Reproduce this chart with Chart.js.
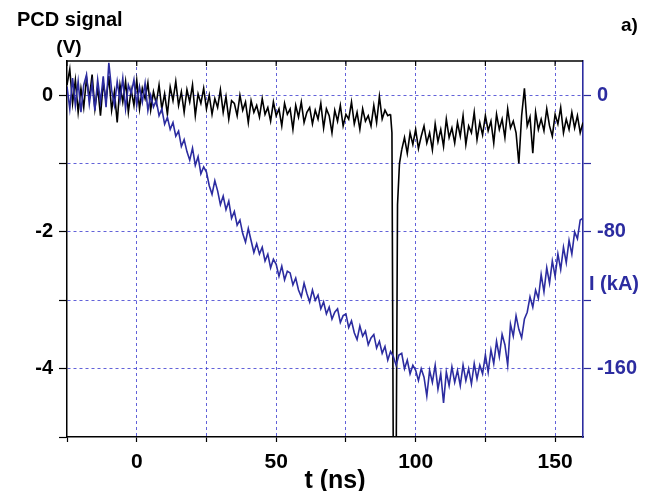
<!DOCTYPE html>
<html>
<head>
<meta charset="utf-8">
<script src="https://cdn.jsdelivr.net/npm/chart.js@4.4.0/dist/chart.umd.min.js"></script>
<style>
  html, body { margin: 0; padding: 0; background: #fff; }
  #wrap { position: relative; width: 658px; height: 491px; }
</style>
</head>
<body>
<div id="wrap"><canvas id="pcdChart" width="658" height="491"></canvas></div>
<script>
// temps (ns) : un échantillon par ns, de -25 à 160
const tStart = -25;
const xTicks = [-25, 0, 25, 50, 75, 100, 125, 150];
const xLabels = [0, 50, 100, 150];
const vTicks = [-5, -4, -3, -2, -1, 0];
const vLabels = [0, -2, -4];
const kaTicks = [-160, -120, -80, -40, 0];
const kaLabels = [0, -80, -160];

// courant I (kA), t = -25 ... 160
const currentKA = [
  5, -8, 10, -6, 8, -10, 6, 12, -5, 7,
  -9, 9, -4, 11, -7, 19, 3, -6, 8, -3,
  10, -8, 6, 1, 9, -6, 5, -4, 7, -9,
  0, -7, -3, -12, -8, -17, -13, -20, -16, -24,
  -21, -30, -26, -33, -38, -31, -41, -36, -46, -42,
  -45, -53, -58, -50, -56, -64, -59, -67, -62, -72,
  -68, -76, -73, -81, -86, -78, -85, -92, -87, -93,
  -89, -97, -93, -101, -96, -99, -106, -100, -108, -103,
  -104, -111, -107, -114, -118, -110, -116, -121, -114, -120,
  -117, -125, -121, -128, -124, -131, -127, -125, -133, -129,
  -128, -136, -132, -139, -143, -135, -141, -138, -146, -142,
  -140, -148, -144, -151, -147, -155, -150, -153, -158, -152,
  -151, -160, -155, -163, -158, -161, -167, -160, -165, -176,
  -161, -168, -158, -172, -163, -180, -162, -170, -159, -168,
  -161, -170, -158, -167, -160, -169, -157, -166, -158, -163,
  -152, -162, -149, -157, -144, -153, -140, -146, -158, -134,
  -141, -129, -137, -142, -131, -127, -118, -124, -114, -119,
  -105, -115, -101, -110, -97, -106, -93, -102, -89, -98,
  -85, -93, -80, -84, -73, -72
];

// signal PCD (V), t = -25 ... 160 ; null là où le pic est tracé à part
const pcdV = [
  0.15, 0.38, -0.12, 0.22, -0.25, 0.1, -0.18, 0.25, -0.05, 0.3,
  -0.2, 0.12, -0.3, 0.18, -0.08, 0.28, -0.22, 0.05, -0.4, 0.15,
  -0.1, 0.2, -0.25, 0.08, -0.15, 0.22, -0.2, 0.1, -0.05, 0.18,
  -0.22, 0.05, -0.12, 0.15, -0.2, 0.02, -0.28, 0.12, -0.08, 0.2,
  -0.15, 0.05, -0.25, 0.08, -0.1, 0.15, -0.3, 0.02, -0.12, 0.1,
  -0.2, 0.0, -0.28, -0.05, -0.18, 0.08, -0.25, -0.02, -0.35, -0.08,
  -0.12, -0.3, 0.0, -0.22, -0.1, -0.4, -0.08, -0.25, -0.15, -0.32,
  -0.05, -0.28, -0.18, -0.38, -0.1, -0.3, -0.2, -0.45, -0.12, -0.28,
  -0.2, -0.5, -0.15, -0.32, -0.1, -0.4, -0.25, -0.18, -0.42, -0.22,
  -0.35, -0.12, -0.48, -0.2, -0.3, -0.55, -0.22, -0.38, -0.15, -0.45,
  -0.28, -0.35, -0.1, -0.42, -0.25, -0.5, -0.2, -0.38, -0.3, -0.45,
  -0.15, -0.4, -0.02, -0.35, -0.22, -0.3, -0.28, null, null, null,
  -0.8, -0.62, -0.85, -0.55, -0.72, -0.5, -0.78, -0.6, -0.45, -0.7,
  -0.55, -0.8, -0.42, -0.68, -0.5, -0.75, -0.35, -0.62, -0.48, -0.7,
  -0.4, -0.6, -0.3, -0.72, -0.45, -0.55, -0.25, -0.65, -0.4, -0.58,
  -0.3, -0.52, -0.38, -0.7, -0.28, -0.5, -0.35, -0.62, -0.2, -0.48,
  -0.38, -0.55, -1.0, -0.3, 0.1, -0.45, -0.32, -0.85, -0.25, -0.5,
  -0.35, -0.52, -0.2, -0.45, -0.6, -0.28, -0.42, -0.18, -0.55, -0.35,
  -0.5, -0.25, -0.48, -0.3, -0.55, -0.4
];

// le pic vers 92 ns
const spikeT = [91, 91.5, 92, 93, 93.5, 94.2, 95];
const spikeV = [-0.28, -0.55, -5.5, -5.5, -1.6, -1.0, -0.8];

const blue = '#2c2ca0';
const gridBlue = 'rgba(70, 70, 210, 0.85)';
const font = '"Liberation Sans", Arial, sans-serif';

const toPts = arr => arr.map((v, i) => ({x: tStart + i, y: v}));

// cadre du haut, petites graduations et textes
const decorations = {
    id: 'decorations',
    afterDraw(chart) {
        const {ctx, chartArea: a, scales} = chart;
        ctx.save();
        ctx.strokeStyle = '#000';
        ctx.lineWidth = 1.5;
        ctx.beginPath();
        ctx.moveTo(a.left, a.top);
        ctx.lineTo(a.right, a.top);
        ctx.stroke();
        ctx.lineWidth = 1.2;
        xTicks.forEach(v => {
            const px = scales.x.getPixelForValue(v);
            ctx.beginPath();
            ctx.moveTo(px, a.top);
            ctx.lineTo(px, a.top + 5);
            ctx.stroke();
        });

        ctx.fillStyle = '#000';
        ctx.font = 'bold 20px ' + font;
        ctx.textAlign = 'left';
        ctx.fillText('PCD signal', 17, 26);
        ctx.font = 'bold 19px ' + font;
        ctx.textAlign = 'center';
        ctx.fillText('(V)', 69, 53);
        ctx.textAlign = 'left';
        ctx.fillText('a)', 621, 31);
        ctx.font = 'bold 25px ' + font;
        ctx.textAlign = 'center';
        ctx.fillText('t (ns)', 335, 488);
        ctx.fillStyle = blue;
        ctx.font = 'bold 20px ' + font;
        ctx.textAlign = 'left';
        ctx.fillText('I (kA)', 589, 290);
        ctx.restore();
    }
};

const ctx = document.getElementById('pcdChart').getContext('2d');
const pcdChart = new Chart(ctx, {
    type: 'line',
    data: {
        datasets: [
            {
                label: 'I (kA)',
                data: toPts(currentKA),
                yAxisID: 'yI',
                borderColor: blue,
                borderWidth: 1.6,
                pointRadius: 0,
                tension: 0
            },
            {
                label: 'PCD signal',
                data: toPts(pcdV),
                yAxisID: 'y',
                borderColor: '#000',
                borderWidth: 1.6,
                pointRadius: 0,
                tension: 0,
                spanGaps: false
            },
            {
                label: 'PCD pic',
                data: spikeT.map((t, i) => ({x: t, y: spikeV[i]})),
                yAxisID: 'y',
                borderColor: '#000',
                borderWidth: 1.6,
                pointRadius: 0,
                tension: 0
            }
        ]
    },
    options: {
        responsive: false,
        animation: false,
        layout: { padding: { top: 61, left: 0, right: 0, bottom: 0 } },
        plugins: {
            legend: { display: false },
            tooltip: { enabled: false }
        },
        scales: {
            x: {
                type: 'linear',
                min: -25,
                max: 160,
                afterBuildTicks: s => { s.ticks = xTicks.map(v => ({value: v})); },
                afterFit: s => { s.height = 54; },
                ticks: {
                    callback: v => xLabels.includes(v) ? String(v) : '',
                    color: '#000',
                    font: { family: font, size: 21, weight: 'bold' },
                    padding: 8,
                    maxRotation: 0,
                    autoSkip: false
                },
                grid: {
                    color: c => (c.tick && c.tick.value === -25) ? 'rgba(0,0,0,0)' : gridBlue,
                    lineWidth: 1,
                    tickColor: '#000',
                    tickLength: 5,
                    tickWidth: 1.2,
                    tickBorderDash: []
                },
                border: { color: '#000', width: 1.5, dash: [3, 3] }
            },
            y: {
                position: 'left',
                min: -5,
                max: 0.5,
                afterBuildTicks: s => { s.ticks = vTicks.map(v => ({value: v})); },
                afterFit: s => { s.width = 67; },
                ticks: {
                    callback: v => vLabels.includes(v) ? String(v) : '',
                    color: '#000',
                    font: { family: font, size: 20, weight: 'bold' },
                    padding: 6,
                    autoSkip: false
                },
                grid: {
                    color: c => (c.tick && c.tick.value === -5) ? 'rgba(0,0,0,0)' : gridBlue,
                    lineWidth: 1,
                    tickColor: '#000',
                    tickLength: 8,
                    tickWidth: 1.2,
                    tickBorderDash: []
                },
                border: { color: '#000', width: 1.5, dash: [3, 3] }
            },
            yI: {
                position: 'right',
                min: -200,
                max: 20,
                afterBuildTicks: s => { s.ticks = kaTicks.map(v => ({value: v})); },
                afterFit: s => { s.width = 75; },
                ticks: {
                    callback: v => kaLabels.includes(v) ? String(v) : '',
                    color: blue,
                    font: { family: font, size: 20, weight: 'bold' },
                    padding: 6,
                    autoSkip: false
                },
                grid: {
                    drawOnChartArea: false,
                    tickColor: blue,
                    tickLength: 8,
                    tickWidth: 1.2,
                    tickBorderDash: []
                },
                border: { color: blue, width: 1.6 }
            }
        }
    },
    plugins: [decorations]
});
</script>
</body>
</html>
